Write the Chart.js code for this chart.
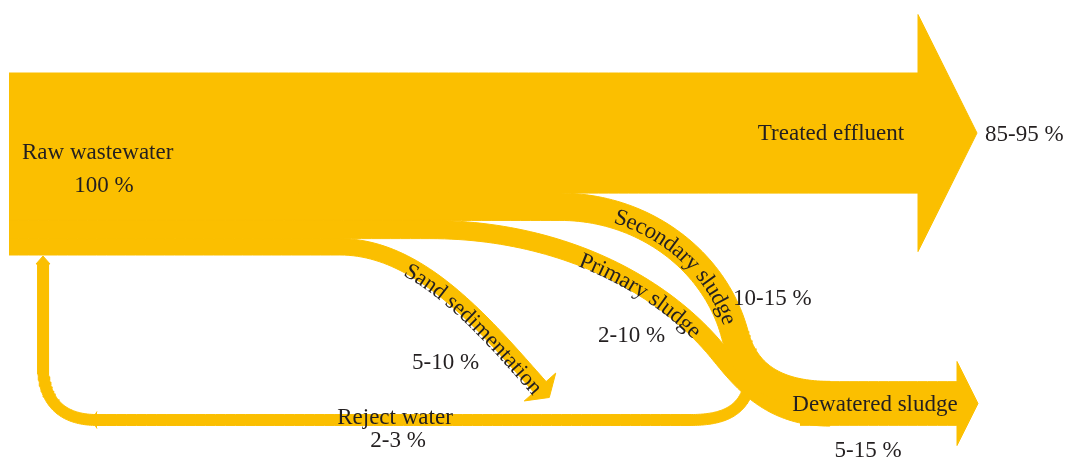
<!DOCTYPE html>
<html>
<head>
<meta charset="utf-8">
<script src="https://cdn.jsdelivr.net/npm/chart.js@4.4.0/dist/chart.umd.min.js"></script>
<style>
	html, body { margin: 0; padding: 0; background: #fff; }
	#wrap { width: 1066px; height: 459px; position: relative; }
</style>
</head>
<body>
<div id="wrap"><canvas id="sankeyChart"></canvas></div>
<script>
// flows in % of the raw wastewater
const flowNames = ['Raw wastewater', 'Treated effluent', 'Secondary sludge', 'Primary sludge', 'Sand sedimentation', 'Dewatered sludge', 'Reject water'];
const flowWidths = [100, 66, 15, 10, 9, 24, 6];
const flowLabels = ['100 %', '85-95 %', '10-15 %', '2-10 %', '5-10 %', '5-15 %', '2-3 %'];
// order in which the outflows leave the raw wastewater block, top to bottom
const stackOrder = ['Treated effluent', 'Secondary sludge', 'Primary sludge', 'Sand sedimentation'];

const FLOW_COLOR = '#FBBF00';
const TEXT_COLOR = '#231f20';
const FONT = '23px "Liberation Serif", "Times New Roman", serif';
const PX = 1.82; // axis units per %
const BLOCK_LEFT = 9, BLOCK_TOP = 73;

const widthOf = name => flowWidths[flowNames.indexOf(name)] * PX;
const labelOf = name => flowLabels[flowNames.indexOf(name)];

// centre line of each outflow where it leaves the block
const stackY = {};
let yTop = BLOCK_TOP;
stackOrder.forEach(n => { stackY[n] = yTop + widthOf(n) / 2; yTop += widthOf(n); });
const dewY = 403.5;

// route of each band: start point + segments (L = straight, C = cubic)
const routes = {
	'Treated effluent': y => [[BLOCK_LEFT, y], ['L', 918, y]],
	'Secondary sludge': y => [[BLOCK_LEFT, y], ['L', 560, y], ['C', 645, y, 716, 262, 735, 335], ['C', 745, 371.5, 772, 395, 830, 395]],
	'Primary sludge': y => [[BLOCK_LEFT, y], ['L', 430, y], ['C', 555, y, 655, 280, 712, 345], ['C', 735, 371, 762, 417, 830, 417]],
	'Sand sedimentation': y => [[BLOCK_LEFT, y], ['L', 340, y], ['C', 420, y, 485, 325, 540, 387]],
	'Dewatered sludge': () => [[800, dewY], ['L', 957, dewY]],
	'Reject water': () => [[748, 390], ['C', 740, 412, 722, 420, 690, 420], ['L', 97, 420], ['C', 62, 420, 43, 402, 43, 365], ['L', 43, 264]]
};
// arrow heads: half width, length
const heads = {
	'Treated effluent': [118.5, 59],
	'Dewatered sludge': [42, 21],
	'Sand sedimentation': [21, 14],
	'Reject water': [7, 8]
};

function trace(route) {
	const start = route[0];
	const pts = [start.slice()];
	const joints = [];
	let x0 = start[0], y0 = start[1];
	route.slice(1).forEach(s => {
		if (s[0] === 'L') {
			const x1 = s[1], y1 = s[2];
			const n = Math.max(2, Math.ceil(Math.hypot(x1 - x0, y1 - y0) / 10));
			for (let i = 1; i <= n; i++) pts.push([x0 + (x1 - x0) * i / n, y0 + (y1 - y0) * i / n]);
			x0 = x1; y0 = y1;
		} else {
			const [, ax, ay, bx, by, x1, y1] = s;
			const n = 50;
			for (let i = 1; i <= n; i++) {
				const t = i / n, u = 1 - t;
				pts.push([
					u * u * u * x0 + 3 * u * u * t * ax + 3 * u * t * t * bx + t * t * t * x1,
					u * u * u * y0 + 3 * u * u * t * ay + 3 * u * t * t * by + t * t * t * y1
				]);
			}
			x0 = x1; y0 = y1;
		}
		joints.push(pts.length - 1);
	});
	return { pts, joints };
}

function normals(pts) {
	return pts.map((p, i) => {
		const a = pts[Math.max(0, i - 1)], b = pts[Math.min(pts.length - 1, i + 1)];
		const dx = b[0] - a[0], dy = b[1] - a[1], len = Math.hypot(dx, dy) || 1;
		return [-dy / len, dx / len];
	});
}

function ribbon(pts, width, head) {
	const ns = normals(pts);
	const up = [], down = [];
	pts.forEach((p, i) => {
		const n = ns[i];
		up.push({ x: p[0] - n[0] * width / 2, y: p[1] - n[1] * width / 2 });
		down.push({ x: p[0] + n[0] * width / 2, y: p[1] + n[1] * width / 2 });
	});
	if (head) {
		const end = pts[pts.length - 1], n = ns[ns.length - 1];
		const t = [n[1], -n[0]];
		up.push({ x: end[0] - n[0] * head[0], y: end[1] - n[1] * head[0] });
		up.push({ x: end[0] + t[0] * head[1], y: end[1] + t[1] * head[1] });
		up.push({ x: end[0] + n[0] * head[0], y: end[1] + n[1] * head[0] });
	}
	return up.concat(down.reverse());
}

const traced = {};
const datasets = [];
flowNames.slice(1).forEach(name => {
	const tr = trace(routes[name](stackY[name]));
	traced[name] = tr;
	datasets.push({
		label: name,
		data: ribbon(tr.pts, widthOf(name), heads[name]),
		showLine: true,
		fill: 'shape',
		backgroundColor: FLOW_COLOR,
		borderColor: FLOW_COLOR,
		borderWidth: 1,
		pointRadius: 0,
		tension: 0,
		clip: false
	});
});

// small direction mark on the reject water line
(() => {
	const tr = traced['Reject water'];
	const j = tr.joints[1];
	const p = tr.pts[j], ns = normals(tr.pts)[j];
	const t = [ns[1], -ns[0]];
	datasets.push({
		label: 'Reject water mark',
		data: [
			{ x: p[0] - ns[0] * 8.5, y: p[1] - ns[1] * 8.5 },
			{ x: p[0] + t[0] * 5, y: p[1] + t[1] * 5 },
			{ x: p[0] + ns[0] * 8.5, y: p[1] + ns[1] * 8.5 }
		],
		showLine: true, fill: 'shape', backgroundColor: FLOW_COLOR, borderColor: FLOW_COLOR,
		borderWidth: 1, pointRadius: 0, tension: 0, clip: false
	});
})();

// plain labels: text, x, y, align
const plainText = [
	['Raw wastewater', 22, 153, 'left'],
	[labelOf('Raw wastewater'), 104, 186, 'center'],
	['Treated effluent', 831, 134, 'center'],
	[labelOf('Treated effluent'), 985, 135, 'left'],
	[labelOf('Secondary sludge'), 733, 299, 'left'],
	[labelOf('Primary sludge'), 598, 336, 'left'],
	[labelOf('Sand sedimentation'), 412, 363, 'left'],
	['Reject water', 395, 418, 'center'],
	[labelOf('Reject water'), 398, 441, 'center'],
	['Dewatered sludge', 875, 405, 'center'],
	[labelOf('Dewatered sludge'), 868, 451, 'center']
];
// labels written along a band: flow, anchor x of text centre, offset from centre line
const curvedText = [
	['Secondary sludge', 684, 2],
	['Primary sludge', 640, 4],
	['Sand sedimentation', 478, 5]
];

const textPlugin = {
	id: 'flowText',
	afterDatasetsDraw(chart) {
		const { ctx, scales: { x, y } } = chart;
		ctx.save();
		ctx.fillStyle = TEXT_COLOR;
		ctx.font = FONT;
		ctx.textBaseline = 'middle';
		plainText.forEach(([txt, tx, ty, align]) => {
			ctx.textAlign = align;
			ctx.fillText(txt, x.getPixelForValue(tx), y.getPixelForValue(ty));
		});

		ctx.textAlign = 'center';
		curvedText.forEach(([name, ax, off]) => {
			const raw = traced[name].pts;
			const ns = normals(raw);
			const pts = raw.map((p, i) => [
				x.getPixelForValue(p[0] + ns[i][0] * off),
				y.getPixelForValue(p[1] + ns[i][1] * off)
			]);
			const cum = [0];
			for (let i = 1; i < pts.length; i++) cum.push(cum[i - 1] + Math.hypot(pts[i][0] - pts[i - 1][0], pts[i][1] - pts[i - 1][1]));
			const k = raw.findIndex(p => p[0] >= ax);
			const total = ctx.measureText(name).width;
			let s = cum[k] - total / 2;
			for (const ch of name) {
				const cw = ctx.measureText(ch).width;
				const sc = s + cw / 2;
				let i = 1;
				while (i < cum.length - 1 && cum[i] < sc) i++;
				const f = (sc - cum[i - 1]) / ((cum[i] - cum[i - 1]) || 1);
				const px = pts[i - 1][0] + (pts[i][0] - pts[i - 1][0]) * f;
				const py = pts[i - 1][1] + (pts[i][1] - pts[i - 1][1]) * f;
				const ang = Math.atan2(pts[i][1] - pts[i - 1][1], pts[i][0] - pts[i - 1][0]);
				ctx.save();
				ctx.translate(px, py);
				ctx.rotate(ang);
				ctx.fillText(ch, 0, 0);
				ctx.restore();
				s += cw;
			}
		});
		ctx.restore();
	}
};

new Chart(document.getElementById('sankeyChart').getContext('2d'), {
	type: 'scatter',
	data: { datasets: datasets },
	options: {
		responsive: true,
		maintainAspectRatio: false,
		animation: false,
		layout: { padding: 0 },
		scales: {
			x: { type: 'linear', min: 0, max: 1066, display: false },
			y: { type: 'linear', min: 0, max: 459, reverse: true, display: false }
		},
		plugins: {
			legend: { display: false },
			tooltip: { enabled: false }
		}
	},
	plugins: [textPlugin]
});
</script>
</body>
</html>
